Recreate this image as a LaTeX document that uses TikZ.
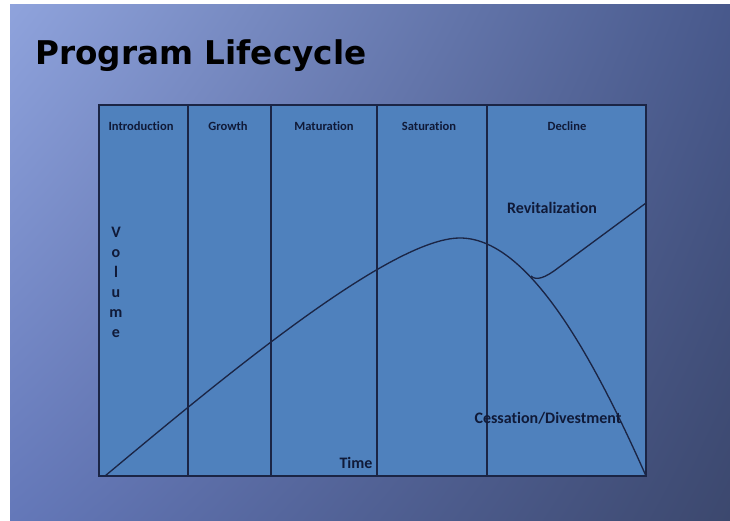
\documentclass[tikz,border=0pt]{standalone}
\usepackage{fontspec}
\usetikzlibrary{shadings}
\setmainfont{Carlito}[Ligatures=NoCommon]
\newfontfamily\titlefont{DejaVu Sans}
\definecolor{chartfill}{HTML}{4F81BD}
\definecolor{inkline}{HTML}{1B2545}
\definecolor{inktext}{HTML}{101A38}
\definecolor{bgUL}{HTML}{8FA3DC}
\definecolor{bgUR}{HTML}{48598C}
\definecolor{bgLL}{HTML}{6478B9}
\definecolor{bgLR}{HTML}{3C486E}
\tikzset{
  headlabel/.style={anchor=base, font=\fontsize{9.4}{11}\selectfont\bfseries, text=inktext, inner sep=0pt},
  biglabel/.style={font=\fontsize{12}{15}\selectfont\bfseries, text=inktext, inner sep=0pt},
  chartline/.style={draw=inkline, line width=1pt},
  curveline/.style={draw=inkline, line width=1pt, line join=round},
}
\begin{document}
\begin{tikzpicture}[x=0.75pt,y=-0.75pt]
\useasboundingbox (0,0) rectangle (730,520);
\fill[white] (0,0) rectangle (730,520);
\shade[upper left=bgUL, upper right=bgUR, lower left=bgLL, lower right=bgLR] (10,5) rectangle (730,520);
% title
\node[anchor=base west, inner sep=0pt, font=\titlefont\fontsize{24.5}{29}\selectfont\bfseries, text=black] (title) at (35,65) {Program Lifecycle};
% chart
\fill[chartfill] (99,105) rectangle (646,476);
\draw[chartline] (99,105) rectangle (646,476);
\foreach \xx in {188,271,377,487} \draw[chartline] (\xx,105) -- (\xx,476);
% headers
\node[headlabel] (h1) at (141,131) {Introduction};
\node[headlabel] (h2) at (228,131) {Growth};
\node[headlabel] (h3) at (324,131) {Maturation};
\node[headlabel] (h4) at (429,131) {Saturation};
\node[headlabel] (h5) at (567,131) {Decline};
% curve
\coordinate (c0) at (105,476);
\coordinate (cpeak) at (460,238);
\coordinate (cend) at (646,476);
\coordinate (cjoin) at (531,276);
\coordinate (cbend) at (558,268);
\coordinate (crevend) at (646,203);
\draw[curveline] (c0) .. controls (220,380) and (390,238) .. (cpeak)
  .. controls (525,238) and (588,345) .. (cend);
\draw[curveline] (cjoin) .. controls (536,281) and (545,278) .. (cbend) -- (crevend);
% labels
\node[biglabel, anchor=base] (revit) at (552,213) {Revitalization};
\node[biglabel, anchor=base] (cess) at (548,423) {Cessation/Divestment};
\node[biglabel, anchor=base] (time) at (356,468) {Time};
\node[biglabel, align=center, anchor=north] (vol) at (116,227) {V\\o\\l\\u\\m\\e};
\end{tikzpicture}
\end{document}
